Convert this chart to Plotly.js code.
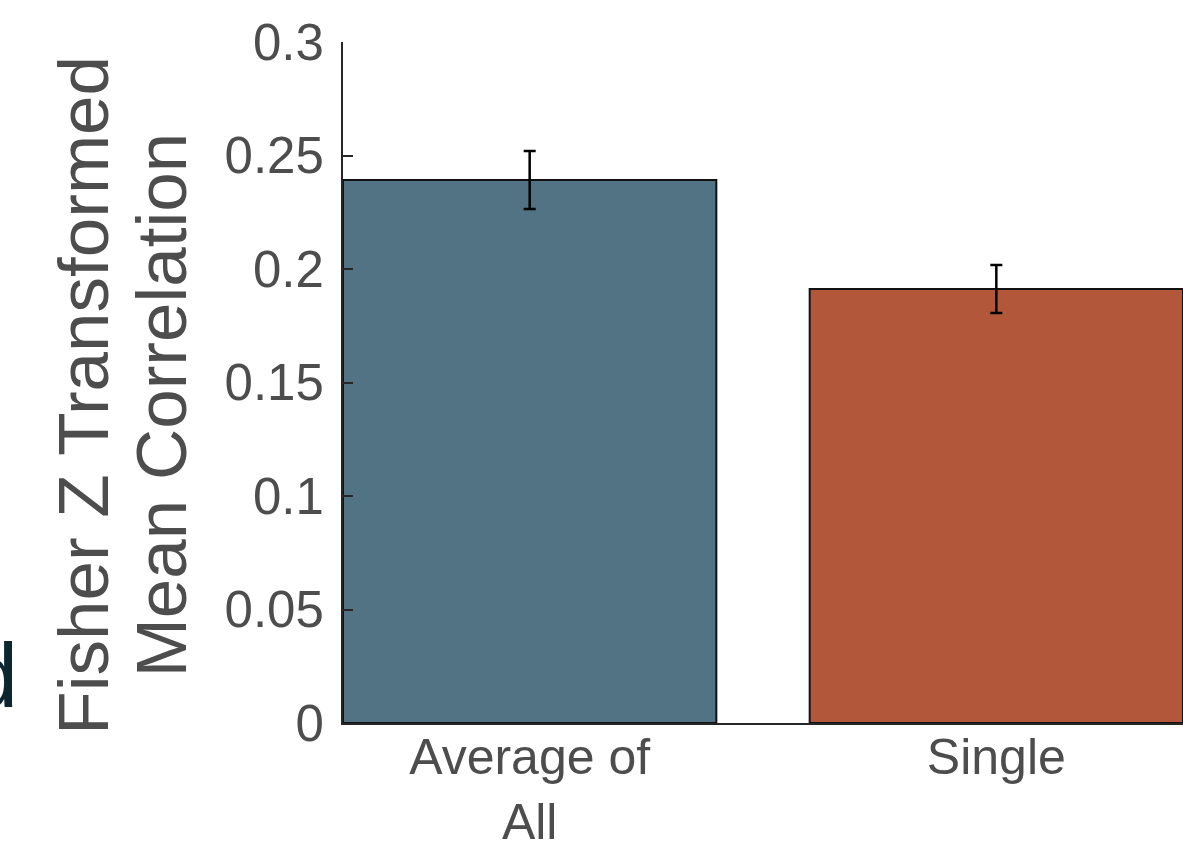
<!DOCTYPE html>
<html>
<head>
<meta charset="utf-8">
<script src="https://cdn.plot.ly/plotly-3.0.1.min.js"></script>
<style>html,body{margin:0;padding:0;background:#fff;}#chart{width:1183px;height:847px;}</style>
</head>
<body>
<div id="chart"></div>
<script>
const categories = ["Average of<br>All", "Single"];
const meanValues = [0.2392, 0.1912];
const errPlus = [0.0128, 0.0106];
const errMinus = [0.0128, 0.0106];
const barColors = ["#527384", "#b3573a"];
const yTickVals = [0, 0.05, 0.1, 0.15, 0.2, 0.25, 0.3];
const yTickText = ["0", "0.05", "0.1", "0.15", "0.2", "0.25", "0.3"];
const yTitleLines = ["Fisher Z Transformed", "Mean Correlation"];
const panelLabel = "d";

const FONT = "Liberation Sans, Arial, Helvetica, sans-serif";
const TXT = "#4d4d4d";

const trace = {
  type: "bar",
  x: [0, 1],
  y: meanValues,
  width: 0.8,
  marker: {color: barColors, line: {color: "#111111", width: 2}},
  error_y: {type: "data", symmetric: false, array: errPlus, arrayminus: errMinus,
            color: "#000000", thickness: 2.5, width: 6},
  hoverinfo: "none"
};

const layout = {
  width: 1183, height: 847,
  margin: {l: 343, r: 0, t: 42, b: 124, pad: 0},
  paper_bgcolor: "#ffffff", plot_bgcolor: "#ffffff",
  showlegend: false,
  font: {family: FONT, color: TXT},
  xaxis: {
    range: [-0.4, 1.4], tickvals: [0, 1], ticktext: categories,
    showgrid: false, zeroline: false, showline: true, linecolor: "#262626", linewidth: 2,
    ticks: "", tickfont: {family: FONT, size: 50, color: TXT}, ticklabelstandoff: -11
  },
  yaxis: {
    range: [0, 0.3], tickvals: yTickVals, ticktext: yTickText,
    showgrid: false, zeroline: false, showline: true, linecolor: "#262626", linewidth: 2,
    ticks: "inside", ticklen: 10, tickwidth: 2, tickcolor: "#262626",
    tickfont: {family: FONT, size: 51, color: TXT}, ticklabelstandoff: 7
  },
  annotations: [
    {text: yTitleLines[0], xref: "paper", yref: "paper", x: -0.31, y: 0.4816,
     xanchor: "center", yanchor: "middle", textangle: -90, showarrow: false,
     font: {family: FONT, size: 71, color: TXT}},
    {text: yTitleLines[1], xref: "paper", yref: "paper", x: -0.215, y: 0.467,
     xanchor: "center", yanchor: "middle", textangle: -90, showarrow: false,
     font: {family: FONT, size: 71, color: TXT}},
    {text: panelLabel, xref: "paper", yref: "paper", x: -0.3845, y: -0.0068,
     xanchor: "right", yanchor: "bottom", showarrow: false,
     font: {family: FONT, size: 90, color: "#0c2630"}}
  ]
};

Plotly.newPlot("chart", [trace], layout, {displayModeBar: false, staticPlot: true});
</script>
</body>
</html>
